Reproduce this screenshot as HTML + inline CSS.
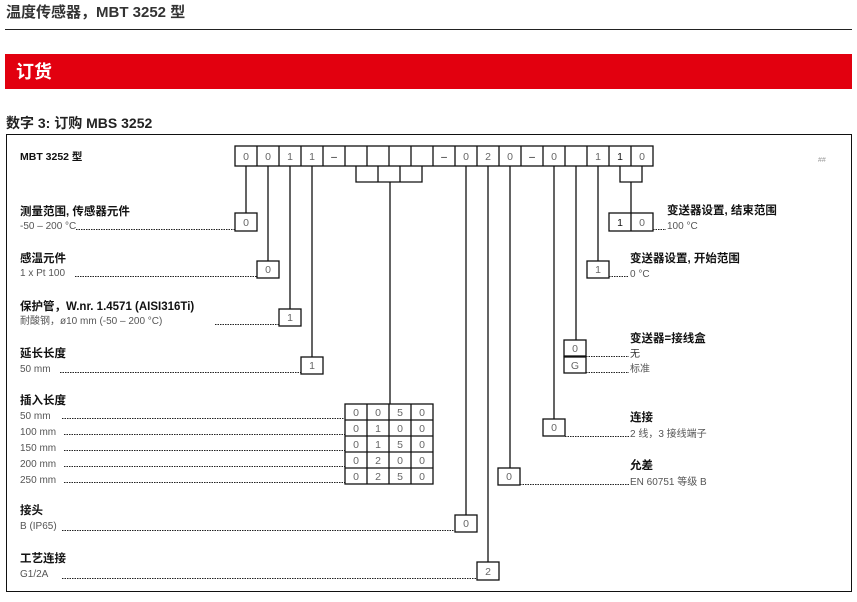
<!DOCTYPE html>
<html><head><meta charset="utf-8"><style>
html,body{margin:0;padding:0;background:#fff;width:857px;height:602px;overflow:hidden}
svg{display:block}
text{font-family:"Liberation Sans","Noto Sans CJK SC",sans-serif}
.b{font-size:11.5px;font-weight:bold;fill:#111}
.n{font-size:10px;fill:#555}
.c{font-size:10.5px;fill:#666;text-anchor:middle}
.d{stroke:#222;stroke-width:1;stroke-dasharray:1.5 1;fill:none}
.l{stroke:#111;stroke-width:1.3;fill:none}
.bx{stroke:#111;stroke-width:1.3;fill:#fff}
</style></head><body>
<svg width="857" height="602" viewBox="0 0 857 602">
<text x="6" y="17" style="font-size:15px;font-weight:bold;fill:#333">温度传感器，MBT 3252 型</text>
<line x1="5" y1="29.5" x2="852" y2="29.5" stroke="#222" stroke-width="1"/>
<rect x="5" y="54" width="847" height="35" fill="#e2000f"/>
<text x="16" y="78" style="font-size:18px;font-weight:bold;fill:#fff">订货</text>
<text x="6" y="128" style="font-size:14px;font-weight:bold;fill:#222">数字 3: 订购 MBS 3252</text>
<rect x="6.5" y="134.5" width="845" height="457" fill="none" stroke="#111" stroke-width="1"/>
<text x="20" y="160" class="b" style="font-size:10.5px">MBT 3252 型</text>
<text x="818" y="162" style="font-size:7px;fill:#999">##</text>

<g>
<rect x="235" y="146" width="418" height="20" class="bx"/>
<g class="l">
<line x1="257" y1="146" x2="257" y2="166"/><line x1="279" y1="146" x2="279" y2="166"/><line x1="301" y1="146" x2="301" y2="166"/><line x1="323" y1="146" x2="323" y2="166"/><line x1="345" y1="146" x2="345" y2="166"/><line x1="367" y1="146" x2="367" y2="166"/><line x1="389" y1="146" x2="389" y2="166"/><line x1="411" y1="146" x2="411" y2="166"/><line x1="433" y1="146" x2="433" y2="166"/><line x1="455" y1="146" x2="455" y2="166"/><line x1="477" y1="146" x2="477" y2="166"/><line x1="499" y1="146" x2="499" y2="166"/><line x1="521" y1="146" x2="521" y2="166"/><line x1="543" y1="146" x2="543" y2="166"/><line x1="565" y1="146" x2="565" y2="166"/><line x1="587" y1="146" x2="587" y2="166"/><line x1="609" y1="146" x2="609" y2="166"/><line x1="631" y1="146" x2="631" y2="166"/>
</g>
<text x="246" y="160" class="c">0</text><text x="268" y="160" class="c">0</text><text x="290" y="160" class="c">1</text><text x="312" y="160" class="c">1</text><text x="334" y="160" class="c" style="fill:#111">–</text>
<text x="444" y="160" class="c" style="fill:#111">–</text><text x="466" y="160" class="c">0</text><text x="488" y="160" class="c">2</text><text x="510" y="160" class="c">0</text><text x="532" y="160" class="c" style="fill:#111">–</text><text x="554" y="160" class="c">0</text><text x="598" y="160" class="c">1</text><text x="620" y="160" class="c" style="fill:#111">1</text><text x="642" y="160" class="c">0</text>
</g>

<g class="l">
<polyline points="356,166 356,182 422,182 422,166"/><line x1="378" y1="166" x2="378" y2="182"/><line x1="400" y1="166" x2="400" y2="182"/>
<polyline points="620,166 620,182 642,182 642,166"/>
<line x1="246" y1="166" x2="246" y2="213"/>
<line x1="268" y1="166" x2="268" y2="261"/>
<line x1="290" y1="166" x2="290" y2="309"/>
<line x1="312" y1="166" x2="312" y2="357"/>
<line x1="390" y1="182" x2="390" y2="404"/>
<line x1="466" y1="166" x2="466" y2="515"/>
<line x1="488" y1="166" x2="488" y2="562"/>
<line x1="510" y1="166" x2="510" y2="468"/>
<line x1="554" y1="166" x2="554" y2="419"/>
<line x1="576" y1="166" x2="576" y2="340"/>
<line x1="598" y1="166" x2="598" y2="261"/>
<line x1="631" y1="182" x2="631" y2="213"/>
</g>

<text x="20" y="215" class="b">测量范围, 传感器元件</text><text x="20" y="229" class="n">-50 – 200 °C</text>
<line x1="76" y1="229.5" x2="235" y2="229.5" class="d"/>
<rect x="235" y="213" width="22" height="18" class="bx"/><text x="246" y="226" class="c">0</text>

<text x="20" y="262" class="b">感温元件</text><text x="20" y="276" class="n">1 x Pt 100</text>
<line x1="75" y1="276.5" x2="257" y2="276.5" class="d"/>
<rect x="257" y="261" width="22" height="17" class="bx"/><text x="268" y="273" class="c">0</text>

<text x="20" y="310" class="b">保护管，W.nr. 1.4571 (AISI316Ti)</text><text x="20" y="324" class="n">耐酸钢，ø10 mm (-50 – 200 °C)</text>
<line x1="215" y1="324.5" x2="279" y2="324.5" class="d"/>
<rect x="279" y="309" width="22" height="17" class="bx"/><text x="290" y="321" class="c">1</text>

<text x="20" y="357" class="b">延长长度</text><text x="20" y="372" class="n">50 mm</text>
<line x1="60" y1="372.5" x2="301" y2="372.5" class="d"/>
<rect x="301" y="357" width="22" height="17" class="bx"/><text x="312" y="369" class="c">1</text>

<text x="20" y="404" class="b">插入长度</text>
<text x="20" y="419" class="n">50 mm</text><text x="20" y="435" class="n">100 mm</text><text x="20" y="451" class="n">150 mm</text><text x="20" y="467" class="n">200 mm</text><text x="20" y="483" class="n">250 mm</text>
<line x1="62" y1="418.5" x2="345" y2="418.5" class="d"/><line x1="64" y1="434.5" x2="345" y2="434.5" class="d"/><line x1="64" y1="450.5" x2="345" y2="450.5" class="d"/><line x1="64" y1="466.5" x2="345" y2="466.5" class="d"/><line x1="64" y1="482.5" x2="345" y2="482.5" class="d"/>
<rect x="345" y="404" width="88" height="80" class="bx"/>
<g class="l"><line x1="367" y1="404" x2="367" y2="484"/><line x1="389" y1="404" x2="389" y2="484"/><line x1="411" y1="404" x2="411" y2="484"/>
<line x1="345" y1="420" x2="433" y2="420"/><line x1="345" y1="436" x2="433" y2="436"/><line x1="345" y1="452" x2="433" y2="452"/><line x1="345" y1="468" x2="433" y2="468"/></g>
<g>
<text x="356" y="416" class="c">0</text><text x="378" y="416" class="c">0</text><text x="400" y="416" class="c">5</text><text x="422" y="416" class="c">0</text>
<text x="356" y="432" class="c">0</text><text x="378" y="432" class="c">1</text><text x="400" y="432" class="c">0</text><text x="422" y="432" class="c">0</text>
<text x="356" y="448" class="c">0</text><text x="378" y="448" class="c">1</text><text x="400" y="448" class="c">5</text><text x="422" y="448" class="c">0</text>
<text x="356" y="464" class="c">0</text><text x="378" y="464" class="c">2</text><text x="400" y="464" class="c">0</text><text x="422" y="464" class="c">0</text>
<text x="356" y="480" class="c">0</text><text x="378" y="480" class="c">2</text><text x="400" y="480" class="c">5</text><text x="422" y="480" class="c">0</text>
</g>

<text x="20" y="514" class="b">接头</text><text x="20" y="529" class="n">B (IP65)</text>
<line x1="62" y1="530.5" x2="455" y2="530.5" class="d"/>
<rect x="455" y="515" width="22" height="17" class="bx"/><text x="466" y="527" class="c">0</text>

<text x="20" y="562" class="b">工艺连接</text><text x="20" y="577" class="n">G1/2A</text>
<line x1="62" y1="578.5" x2="477" y2="578.5" class="d"/>
<rect x="477" y="562" width="22" height="18" class="bx"/><text x="488" y="575" class="c">2</text>

<rect x="609" y="213" width="44" height="18" class="bx"/><line x1="631" y1="213" x2="631" y2="231" class="l"/>
<text x="620" y="226" class="c" style="fill:#111">1</text><text x="642" y="226" class="c">0</text>
<line x1="653" y1="229.5" x2="666" y2="229.5" class="d"/>
<text x="667" y="214" class="b">变送器设置, 结束范围</text><text x="667" y="229" class="n">100 °C</text>

<rect x="587" y="261" width="22" height="17" class="bx"/><text x="598" y="273" class="c">1</text>
<line x1="609" y1="276.5" x2="629" y2="276.5" class="d"/>
<text x="630" y="262" class="b">变送器设置, 开始范围</text><text x="630" y="277" class="n">0 °C</text>

<rect x="564" y="340" width="22" height="16" class="bx"/><text x="575" y="352" class="c">0</text>
<rect x="564" y="357" width="22" height="16" class="bx"/><text x="575" y="369" class="c">G</text>
<line x1="586" y1="356.5" x2="629" y2="356.5" class="d"/><line x1="586" y1="372.5" x2="629" y2="372.5" class="d"/>
<text x="630" y="342" class="b">变送器=接线盒</text><text x="630" y="357" class="n" style="fill:#333">无</text><text x="630" y="372" class="n">标准</text>

<rect x="543" y="419" width="22" height="17" class="bx"/><text x="554" y="431" class="c">0</text>
<line x1="565" y1="436.5" x2="629" y2="436.5" class="d"/>
<text x="630" y="421" class="b">连接</text><text x="630" y="437" class="n">2 线，3 接线端子</text>

<rect x="498" y="468" width="22" height="17" class="bx"/><text x="509" y="480" class="c">0</text>
<line x1="520" y1="484.5" x2="629" y2="484.5" class="d"/>
<text x="630" y="469" class="b">允差</text><text x="630" y="485" class="n">EN 60751 等级 B</text>
</svg>
</body></html>
